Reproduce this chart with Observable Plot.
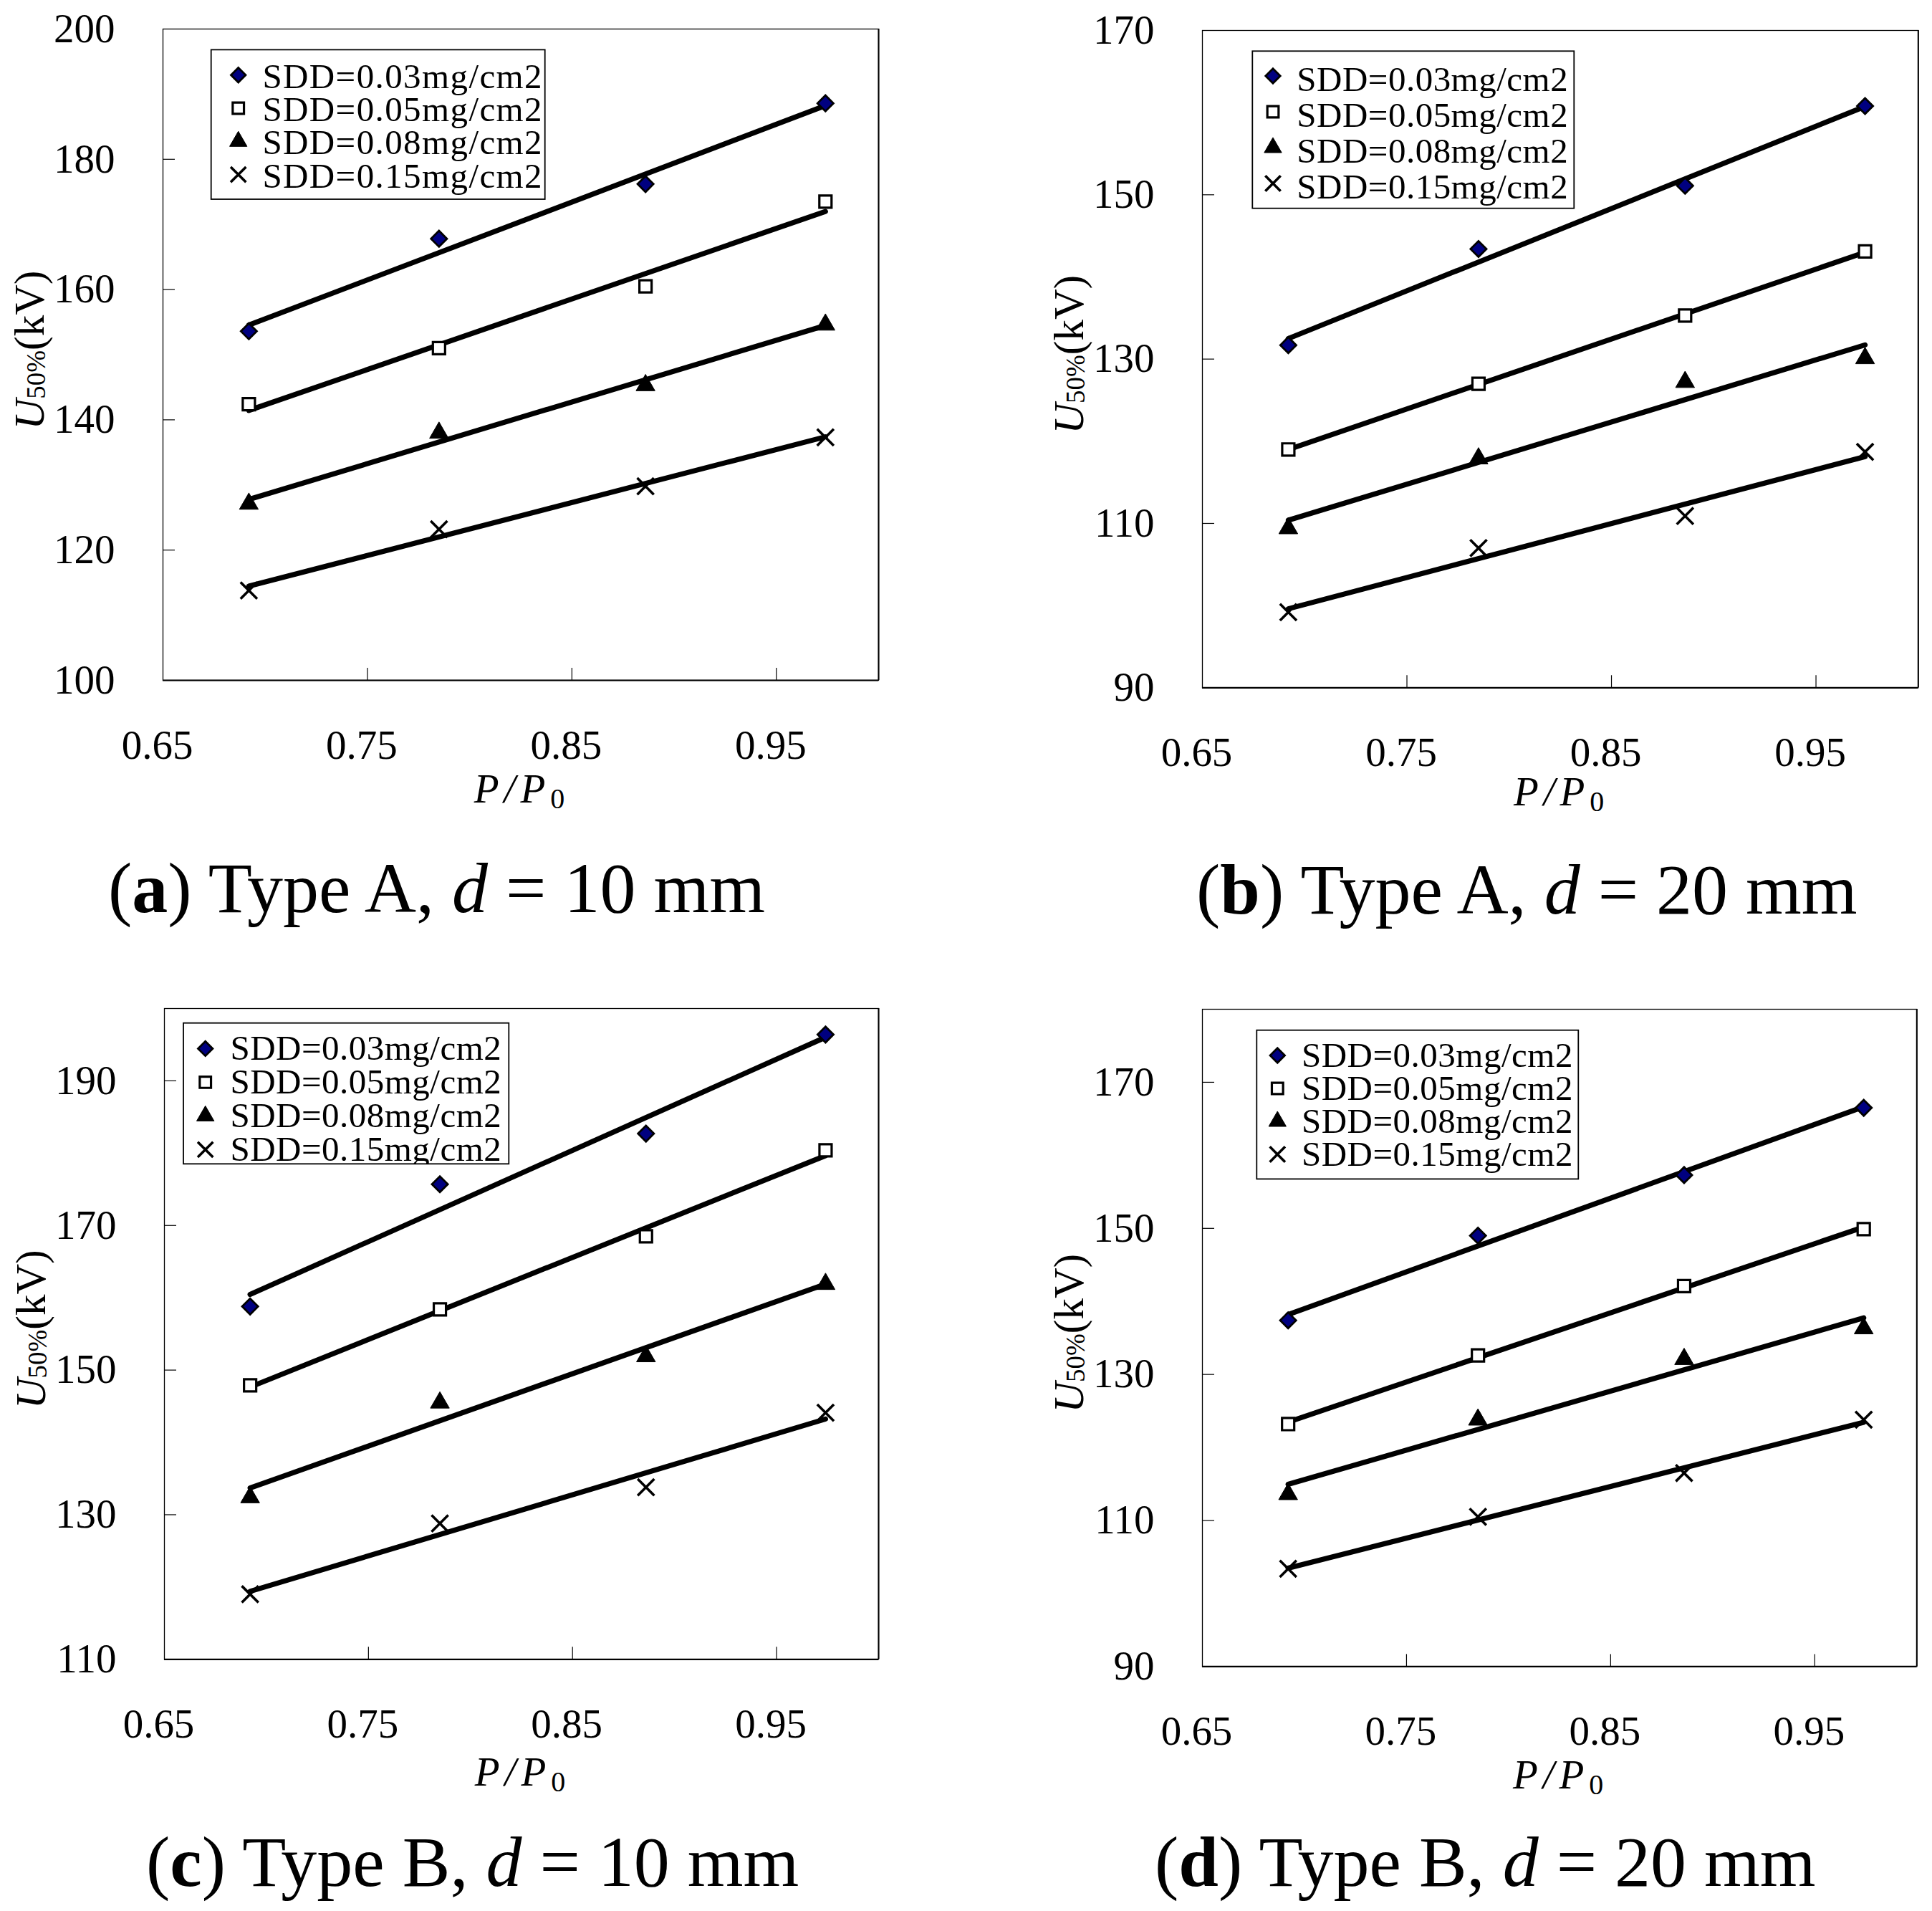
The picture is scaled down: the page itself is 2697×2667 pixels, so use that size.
<!DOCTYPE html>
<html><head><meta charset="utf-8">
<script src="https://cdn.jsdelivr.net/npm/d3@7"></script>
<script src="https://cdn.jsdelivr.net/npm/@observablehq/plot@0.6"></script>
<style>
html,body{margin:0;padding:0;background:#fff;}
#page{position:relative;width:2697px;height:2667px;overflow:hidden;background:#fff;}
#page svg{position:absolute;overflow:visible;}
</style></head><body><div id="page"></div>
<script>
// ---------- data ----------
const pressureRatio = [0.692, 0.785, 0.886, 0.974];
const sddLabels = ["SDD=0.03mg/cm2", "SDD=0.05mg/cm2", "SDD=0.08mg/cm2", "SDD=0.15mg/cm2"];
const xDomain = [0.65, 1.0];
const xTicks = [0.65, 0.75, 0.85, 0.95];
const xTickLabels = ["0.65", "0.75", "0.85", "0.95"];

// (a) Type A, d = 10 mm
const aSdd003 = [153.6, 167.8, 176.2, 188.6];
const aSdd005 = [142.4, 151.0, 160.5, 173.5];
const aSdd008 = [127.1, 138.0, 145.3, 154.6];
const aSdd015 = [113.8, 123.2, 129.8, 137.3];
const aYDomain = [100, 200];
const aYTicks = [100, 120, 140, 160, 180, 200];

// (b) Type A, d = 20 mm
const bSdd003 = [131.7, 143.4, 151.1, 160.8];
const bSdd005 = [119.0, 127.0, 135.3, 143.1];
const bSdd008 = [109.4, 117.9, 127.2, 130.1];
const bSdd015 = [99.2, 107.0, 110.9, 118.7];
const bYDomain = [90, 170];
const bYTicks = [90, 110, 130, 150, 170];

// (c) Type B, d = 10 mm
const cSdd003 = [158.8, 175.7, 182.7, 196.4];
const cSdd005 = [147.9, 158.4, 168.5, 180.4];
const cSdd008 = [132.4, 145.5, 151.9, 161.9];
const cSdd015 = [119.0, 128.8, 133.8, 144.1];
const cYDomain = [110, 200];
const cYTicks = [110, 130, 150, 170, 190];

// (d) Type B, d = 20 mm
const dSdd003 = [137.4, 149.0, 157.3, 166.5];
const dSdd005 = [123.2, 132.6, 142.1, 149.9];
const dSdd008 = [113.6, 123.8, 132.1, 136.3];
const dSdd015 = [103.4, 110.5, 116.5, 123.8];
const dYDomain = [90, 180];
const dYTicks = [90, 110, 130, 150, 170];

const captionLetters = ["a", "b", "c", "d"];
const captionTypes = ["Type A", "Type A", "Type B", "Type B"];
const captionGaps = ["10 mm", "20 mm", "10 mm", "20 mm"];

// ---------- styles / layout ----------
const SERIF = "'Liberation Serif', 'Times New Roman', serif";
const seriesStyles = [
  {symbol: "diamond2", fill: "#000080", stroke: "black", sw: 2.8, r: 10},
  {symbol: "square", fill: "white", stroke: "black", sw: 3.2, r: 9.6},
  {symbol: "triangle", fill: "black", stroke: "black", sw: 1, r: 9.8},
  {symbol: "times", fill: "none", stroke: "black", sw: 3.6, r: 10.6}
];
const d3Symbols = {
  diamond2: d3.symbolDiamond2 || d3.symbolDiamond,
  square: d3.symbolSquare,
  triangle: d3.symbolTriangle,
  times: d3.symbolTimes || d3.symbolCross
};

const panels = [
  {fx: 227.3, fy: 40.3, fw: 999, fh: 909, yDomain: aYDomain, yTicks: aYTicks,
   series: [aSdd003, aSdd005, aSdd008, aSdd015], xLabelDy: 171,
   legend: {x: 67.7, y: 29.4, w: 466, h: 208.6, pitch: 46.3, my: 35.3, ty: 53.3, mx: 38, tx: 71.7, ls: 1.4, clip: false},
   cap: {x: 151, y: 1273}},
  {fx: 1677.7, fy: 42, fw: 999.3, fh: 917.3, yDomain: bYDomain, yTicks: bYTicks,
   series: [bSdd003, bSdd005, bSdd008, bSdd015], xLabelDy: 165,
   legend: {x: 70.3, y: 29.3, w: 449, h: 219.4, pitch: 50, my: 34.7, ty: 55.4, mx: 28.7, tx: 62, ls: 0.5, clip: false},
   cap: {x: 1670, y: 1275}},
  {fx: 229.3, fy: 1407, fw: 997, fh: 908.3, yDomain: cYDomain, yTicks: cYTicks,
   series: [cSdd003, cSdd005, cSdd008, cSdd015], xLabelDy: 177,
   legend: {x: 27, y: 20.7, w: 454.3, h: 196.6, pitch: 47, my: 35.7, ty: 51.3, mx: 30.7, tx: 65.4, ls: 0.5, clip: true},
   cap: {x: 204, y: 2632}},
  {fx: 1677.7, fy: 1408.3, fw: 997.3, fh: 917.4, yDomain: dYDomain, yTicks: dYTicks,
   series: [dSdd003, dSdd005, dSdd008, dSdd015], xLabelDy: 171,
   legend: {x: 76.3, y: 29.7, w: 449, h: 207.7, pitch: 46, my: 35.3, ty: 51, mx: 29, tx: 62.7, ls: 0.5, clip: false},
   cap: {x: 1612, y: 2632}}
];

const page = document.getElementById("page");
const ML = 230, MT = 40, MR = 14, MB = 210;

panels.forEach((p, pi) => {
  const rows = p.series.flatMap((vals, k) => vals.map((v, i) => ({x: pressureRatio[i], y: v, k})));
  const innerX = xTicks.filter(t => t > xDomain[0] && t < xDomain[1]);
  const innerY = p.yTicks.filter(t => t > p.yDomain[0] && t < p.yDomain[1]);
  const marks = [
    Plot.frame({stroke: "black", strokeWidth: 1.3}),
    Plot.ruleY([p.yDomain[0]], {stroke: "black", strokeWidth: 2.2}),
    Plot.ruleX([xDomain[1]], {stroke: "black", strokeWidth: 2}),
    Plot.tickX(innerX, {x: d => d, stroke: "black", strokeWidth: 1.2, insetTop: p.fh - 17}),
    Plot.tickY(innerY, {y: d => d, stroke: "black", strokeWidth: 1.2, insetRight: p.fw - 17}),
    Plot.axisX(xTicks, {tickSize: 0, tickPadding: 69, dx: -8, fontSize: 57, label: null,
      tickFormat: d => xTickLabels[xTicks.indexOf(d)]}),
    Plot.axisY(p.yTicks, {tickSize: 0, tickPadding: 67, fontSize: 57, label: null,
      tickFormat: d => String(d)})
  ];
  seriesStyles.forEach((s, k) => {
    marks.push(Plot.linearRegressionY(rows.filter(r => r.k === k),
      {x: "x", y: "y", stroke: "black", strokeWidth: 7.2, ci: 0}));
  });
  seriesStyles.forEach((s, k) => {
    marks.push(Plot.dot(rows.filter(r => r.k === k),
      {x: "x", y: "y", symbol: s.symbol, r: s.r, fill: s.fill, stroke: s.stroke, strokeWidth: s.sw}));
  });

  const svg = Plot.plot({
    width: ML + p.fw + MR,
    height: MT + p.fh + MB,
    marginLeft: ML, marginTop: MT, marginRight: MR, marginBottom: MB,
    x: {domain: xDomain, label: null},
    y: {domain: p.yDomain, label: null},
    style: {fontFamily: SERIF, fontSize: "57px", color: "black", background: "transparent", overflow: "visible"},
    marks
  });
  svg.style.left = (p.fx - ML) + "px";
  svg.style.top = (p.fy - MT) + "px";
  page.appendChild(svg);

  const root = d3.select(svg);

  // y-axis label
  const yl = root.append("text")
    .attr("transform", `translate(${ML - 166},${MT + p.fh / 2 - 6}) rotate(-90)`)
    .attr("text-anchor", "middle").attr("font-family", SERIF).attr("fill", "black");
  yl.append("tspan").attr("font-style", "italic").attr("font-size", 59).text("U");
  yl.append("tspan").attr("font-size", 37).attr("dy", 2).text("50%");
  yl.append("tspan").attr("font-size", 59).attr("dy", -2).text("(kV)");

  // x-axis label
  const xl = root.append("text")
    .attr("x", ML + p.fw / 2 + 2).attr("y", MT + p.fh + p.xLabelDy)
    .attr("text-anchor", "middle").attr("font-family", SERIF).attr("fill", "black")
    .attr("letter-spacing", 7);
  xl.append("tspan").attr("font-style", "italic").attr("font-size", 57).text("P/P");
  xl.append("tspan").attr("font-size", 40).attr("dy", 8).text("0");

  // legend
  const L = p.legend;
  const g = root.append("g").attr("transform", `translate(${ML + L.x},${MT + L.y})`)
    .attr("text-anchor", "start");
  g.append("rect").attr("width", L.w).attr("height", L.h)
    .attr("fill", "white").attr("stroke", "black").attr("stroke-width", 1.8);
  let content = g;
  if (L.clip) {
    const id = "legclip" + pi;
    g.append("clipPath").attr("id", id).append("rect").attr("width", L.w).attr("height", L.h);
    content = g.append("g").attr("clip-path", `url(#${id})`);
  }
  seriesStyles.forEach((s, k) => {
    content.append("path")
      .attr("transform", `translate(${L.mx},${L.my + k * L.pitch})`)
      .attr("d", d3.symbol().type(d3Symbols[s.symbol]).size(Math.PI * s.r * s.r * 0.85)())
      .attr("fill", s.fill).attr("stroke", s.stroke).attr("stroke-width", s.sw);
    content.append("text")
      .attr("x", L.tx).attr("y", L.ty + k * L.pitch)
      .attr("text-anchor", "start")
      .attr("font-family", SERIF).attr("font-size", 49).attr("letter-spacing", L.ls)
      .attr("fill", "black").text(sddLabels[k]);
  });
});

// captions
const cap = d3.select(page).append("svg")
  .attr("width", 2697).attr("height", 2667)
  .style("left", "0px").style("top", "0px").style("pointer-events", "none");
panels.forEach((p, i) => {
  const t = cap.append("text").attr("x", p.cap.x).attr("y", p.cap.y)
    .attr("font-family", SERIF).attr("font-size", 100).attr("fill", "black")
    .style("white-space", "pre");
  t.append("tspan").text("(");
  t.append("tspan").attr("font-weight", "bold").text(captionLetters[i]);
  t.append("tspan").text(") " + captionTypes[i] + ", ");
  t.append("tspan").attr("font-style", "italic").text("d");
  t.append("tspan").text(" = " + captionGaps[i]);
});
</script>
</body></html>
